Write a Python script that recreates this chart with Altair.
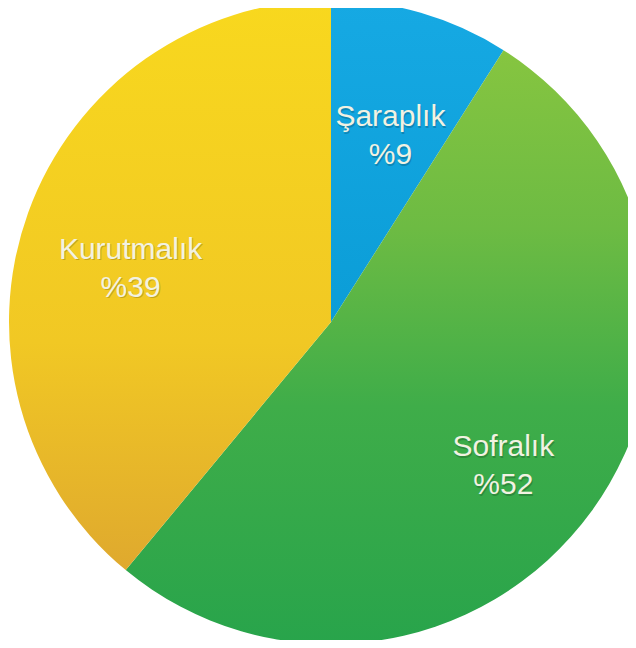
import altair as alt
import pandas as pd

kategoriler = ["Şaraplık", "Sofralık", "Kurutmalık"]
oranlar = [9, 52, 39]
sira = [1, 2, 3]

df = pd.DataFrame({"kategori": kategoriler, "oran": oranlar, "sira": sira})
df["etiket"] = [f"{k}\n%{v}" for k, v in zip(kategoriler, oranlar)]


def gradient(stops):
    return {
        "gradient": "linear",
        "x1": 0, "y1": 0, "x2": 0, "y2": 1,
        "stops": [{"offset": o, "color": c} for o, c in stops],
    }


mavi = gradient([(0, "#16A9E3"), (1, "#0B9DD7")])
yesil = gradient([(0, "#86C540"), (0.3, "#6DBB43"), (0.6, "#3FAD49"), (1, "#28A44B")])
sari = gradient([(0, "#F8D81E"), (0.6, "#F1C824"), (1, "#DFA92E")])

cx, cy, R = 323, 314, 322

base = alt.Chart(df).encode(
    theta=alt.Theta("oran:Q", stack=True),
    order=alt.Order("sira:Q"),
)

arc = base.mark_arc(radius=R, strokeWidth=0).encode(
    x=alt.value(cx),
    y=alt.value(cy),
    fill=alt.when(alt.datum.kategori == "Şaraplık").then(alt.value(mavi))
    .when(alt.datum.kategori == "Sofralık").then(alt.value(yesil))
    .otherwise(alt.value(sari)),
)

golge = base.mark_text(
    radius=213, fontSize=30, lineBreak="\n", lineHeight=38,
    font="Liberation Sans", color="#000000", opacity=0.18,
    dx=1, dy=1.5, align="center", baseline="middle",
).encode(x=alt.value(cx), y=alt.value(cy), text="etiket:N")

yazi = base.mark_text(
    radius=213, fontSize=30, lineBreak="\n", lineHeight=38,
    font="Liberation Sans", color="#F2F2E2",
    align="center", baseline="middle",
).encode(x=alt.value(cx), y=alt.value(cy), text="etiket:N")

chart = alt.layer(arc, golge, yazi).properties(
    width=620, height=632,
    autosize=alt.AutoSizeParams(type="none"),
    padding=0,
).configure_view(stroke=None)

chart.save("out.html", embed_options={"renderer": "svg", "actions": False})
